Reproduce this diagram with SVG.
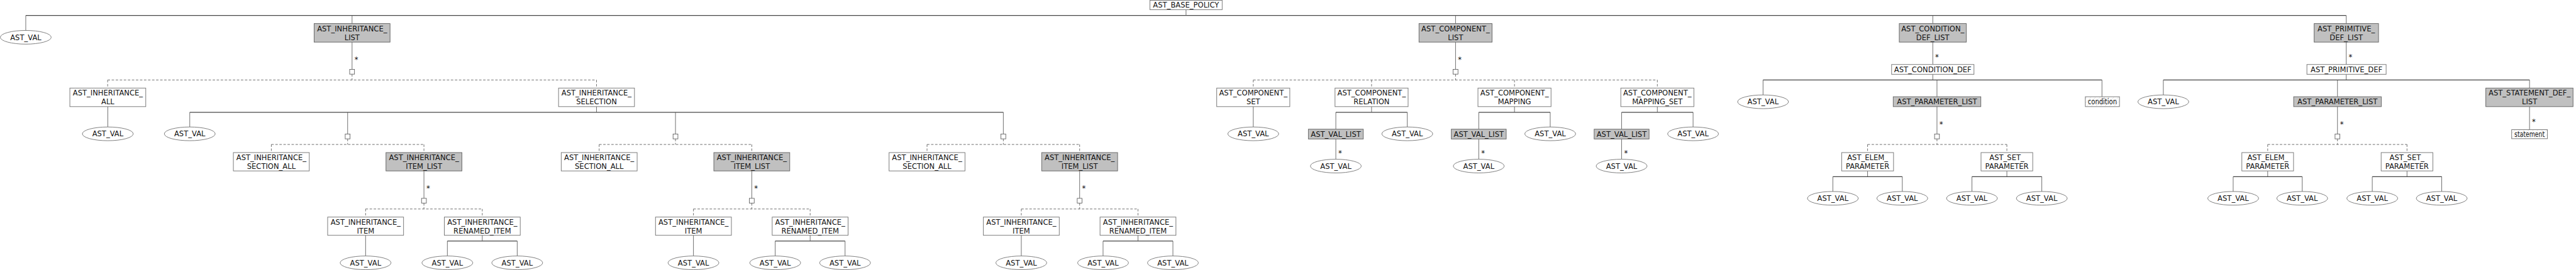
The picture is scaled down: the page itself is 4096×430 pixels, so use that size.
<svg xmlns="http://www.w3.org/2000/svg" width="4096" height="430" viewBox="0 0 4096 430">
<defs>
<pattern id="hatch" patternUnits="userSpaceOnUse" width="8" height="8" patternTransform="rotate(45)">
<rect width="8" height="8" fill="#fff"/>
<line x1="0" y1="0" x2="0" y2="8" stroke="#c8c8c8" stroke-width="1.5" stroke-dasharray="3 2"/>
</pattern>
<style>
.b{fill:#fff;stroke:#777;stroke-width:1.5}
.g{fill:#c0c0c0;stroke:#666;stroke-width:1.5}
.h{fill:url(#hatch);stroke:#777;stroke-width:1.5}
.e{fill:#fff;stroke:#666;stroke-width:1.3}
.m{fill:#fff;stroke:#555;stroke-width:1.3}
.l{stroke:#6a6a6a;stroke-width:1.5;fill:none}
.bus{stroke:#444;stroke-width:1.8;fill:none}
.d{stroke:#555;stroke-width:1.3;stroke-dasharray:6 4;fill:none}
text{font-family:"DejaVu Sans","Liberation Sans",sans-serif;font-size:18px;fill:#111;text-anchor:middle}
</style>
</defs>
<rect width="4096" height="430" fill="#fff"/>
<g transform="scale(0.642)">
<g id="connectors">
<path class="bus" d="M63.8 38.4H5811"/>
<path class="l" d="M2937.5 24V38.4M63.8 38.4V75.5M872 38.4V58.5M3605 38.4V58.5M4787 38.4V58.5M5811 38.4V58.5"/>
<!-- inheritance list -->
<path class="l" d="M872 104.5V172"/>
<path class="d" d="M872 184V198.4M266.6 198.4H1477.4M266.6 198.4V218.5M1477.4 198.4V218.5"/>
<path class="l" d="M267 264.5V315M1477.4 264.5V278.6"/>
<path class="bus" d="M470 278.6H2485"/>
<path class="l" d="M470 278.6V315M861 278.6V332.5M1673 278.6V332.5M2485 278.6V332.5"/>
<path class="d" d="M861 344.5V358.4M672 358.4H1050M672 358.4V378.5M1050 358.4V378.5"/>
<path class="d" d="M1673 344.5V358.4M1484 358.4H1862M1484 358.4V378.5M1862 358.4V378.5"/>
<path class="d" d="M2485 344.5V358.4M2296 358.4H2674M2296 358.4V378.5M2674 358.4V378.5"/>
<path class="l" d="M1050 424V492M1862 424V492M2674 424V492"/>
<path class="d" d="M1050 504V518.4M905.5 518.4H1194.5M905.5 518.4V538.5M1194.5 518.4V538.5"/>
<path class="d" d="M1862 504V518.4M1717.5 518.4H2006.5M1717.5 518.4V538.5M2006.5 518.4V538.5"/>
<path class="d" d="M2674 504V518.4M2529.5 518.4H2818.5M2529.5 518.4V538.5M2818.5 518.4V538.5"/>
<path class="l" d="M905.5 583.7V635M1194.5 583.7V598M1108 598V635M1281 598V635"/>
<path class="l" d="M1717.5 583.7V635M2006.5 583.7V598M1920 598V635M2093 598V635"/>
<path class="l" d="M2529.5 583.7V635M2818.5 583.7V598M2732 598V635M2905 598V635"/>
<path class="bus" d="M1108 598H1281M1920 598H2093M2732 598H2905"/>
<!-- component list -->
<path class="l" d="M3605 104.5V172"/>
<path class="d" d="M3605 184V198.4M3104 198.4H4104.8M3104 198.4V218.5M3397 198.4V218.5M3751 198.4V218.5M4104.8 198.4V218.5"/>
<path class="l" d="M3104 264.5V315M3397 264.5V278.6M3308.5 278.6V320.5M3485.5 278.6V315M3308.5 344.8V395"/>
<path class="l" d="M3751 264.5V278.6M3662.5 278.6V320.5M3839.5 278.6V315M3662.5 344.8V395"/>
<path class="l" d="M4104.8 264.5V278.6M4016.3 278.6V320.5M4193.3 278.6V315M4016.3 344.8V395"/>
<path class="bus" d="M3308.5 278.6H3485.5M3662.5 278.6H3839.5M4016.3 278.6H4193.3"/>
<!-- condition def list -->
<path class="l" d="M4787 104.5V160M4787 184.3V198.4M4366.6 198.4V235.5M4797.4 198.4V240M5206 198.4V240M4797.4 264.5V332.5"/>
<path class="bus" d="M4366.6 198.4H5206"/>
<path class="d" d="M4797.4 344.5V358.4M4625.5 358.4H4970.5M4625.5 358.4V378.5M4970.5 358.4V378.5"/>
<path class="l" d="M4625.5 424V438.2M4539.5 438.2V475M4711.5 438.2V475M4970.5 424V438.2M4884 438.2V475M5057 438.2V475"/>
<path class="bus" d="M4539.5 438.2H4711.5M4884 438.2H5057"/>
<!-- primitive def list -->
<path class="l" d="M5811 104.5V160M5811 184.3V198.4M5358 198.4V235.5M5789.3 198.4V240M6265 198.4V218.5M6265 264.5V321.7M5789.3 264.5V332.5"/>
<path class="bus" d="M5358 198.4H6265"/>
<path class="d" d="M5789.3 344.5V358.4M5616.5 358.4H5961.5M5616.5 358.4V378.5M5961.5 358.4V378.5"/>
<path class="l" d="M5616.5 424V438.2M5531 438.2V475M5702 438.2V475M5961.5 424V438.2M5875.5 438.2V475M6047.5 438.2V475"/>
<path class="bus" d="M5531 438.2H5702M5875.5 438.2H6047.5"/>
<!-- choice markers -->
<rect class="m" x="866" y="172" width="12" height="12"/>
<rect class="m" x="3599" y="172" width="12" height="12"/>
<rect class="m" x="855" y="332.5" width="12" height="12"/>
<rect class="m" x="1667" y="332.5" width="12" height="12"/>
<rect class="m" x="2479" y="332.5" width="12" height="12"/>
<rect class="m" x="1044" y="492" width="12" height="12"/>
<rect class="m" x="1856" y="492" width="12" height="12"/>
<rect class="m" x="2668" y="492" width="12" height="12"/>
<rect class="m" x="4791.4" y="332.5" width="12" height="12"/>
<rect class="m" x="5783.3" y="332.5" width="12" height="12"/>
<!-- multiplicity labels -->
<text x="882.5" y="154.5">*</text>
<text x="3615.5" y="154.5">*</text>
<text x="4797.5" y="148">*</text>
<text x="5821.5" y="148">*</text>
<text x="1060.5" y="473.5">*</text>
<text x="1872.5" y="473.5">*</text>
<text x="2684.5" y="473.5">*</text>
<text x="3319" y="386">*</text>
<text x="3673" y="386">*</text>
<text x="4027" y="386">*</text>
<text x="4808" y="314.5">*</text>
<text x="5800" y="314.5">*</text>
<text x="6275.5" y="309">*</text>
</g>

<g id="ast_base_policy"><rect class="b" x="2848" y="0.8" width="179" height="23.2"/><text x="2937.5" y="18.5">AST_BASE_POLICY</text></g>

<g id="val_root"><ellipse class="e" cx="63.8" cy="92.5" rx="63" ry="17"/><text x="63.8" y="99">AST_VAL</text></g>

<g id="inheritance_list"><rect class="g" x="778" y="58.5" width="188" height="46"/><text x="872" y="77.5">AST_INHERITANCE_</text><text x="872" y="99">LIST</text></g>
<g id="inheritance_all"><rect class="b" x="173" y="218.5" width="188" height="46"/><text x="267" y="237.5">AST_INHERITANCE_</text><text x="267" y="259">ALL</text></g>
<g id="val_all"><ellipse class="e" cx="267" cy="332" rx="63" ry="17"/><text x="267" y="338.5">AST_VAL</text></g>
<g id="inheritance_selection"><rect class="b" x="1383.4" y="218.5" width="188" height="46"/><text x="1477.4" y="237.5">AST_INHERITANCE_</text><text x="1477.4" y="259">SELECTION</text></g>
<g id="val_sel"><ellipse class="e" cx="470" cy="332" rx="63" ry="17"/><text x="470" y="338.5">AST_VAL</text></g>

<g id="section_all_1"><rect class="b" x="578" y="378.5" width="188" height="45.5"/><text x="672" y="397.5">AST_INHERITANCE_</text><text x="672" y="419">SECTION_ALL</text></g>
<g id="item_list_1"><rect class="g" x="956" y="378.5" width="188" height="45.5"/><text x="1050" y="397.5">AST_INHERITANCE_</text><text x="1050" y="419">ITEM_LIST</text></g>
<g id="item_1"><rect class="b" x="811.5" y="538.5" width="188" height="45.2"/><text x="905.5" y="557.5">AST_INHERITANCE_</text><text x="905.5" y="579">ITEM</text></g>
<g id="renamed_1"><rect class="b" x="1100.5" y="538.5" width="188" height="45.2"/><text x="1194.5" y="557.5">AST_INHERITANCE_</text><text x="1194.5" y="579">RENAMED_ITEM</text></g>
<g id="val_i1"><ellipse class="e" cx="905.5" cy="652" rx="63" ry="17"/><text x="905.5" y="658.5">AST_VAL</text></g>
<g id="val_r1a"><ellipse class="e" cx="1108" cy="652" rx="63" ry="17"/><text x="1108" y="658.5">AST_VAL</text></g>
<g id="val_r1b"><ellipse class="e" cx="1281" cy="652" rx="63" ry="17"/><text x="1281" y="658.5">AST_VAL</text></g>

<g id="section_all_2"><rect class="b" x="1390" y="378.5" width="188" height="45.5"/><text x="1484" y="397.5">AST_INHERITANCE_</text><text x="1484" y="419">SECTION_ALL</text></g>
<g id="item_list_2"><rect class="g" x="1768" y="378.5" width="188" height="45.5"/><text x="1862" y="397.5">AST_INHERITANCE_</text><text x="1862" y="419">ITEM_LIST</text></g>
<g id="item_2"><rect class="b" x="1623.5" y="538.5" width="188" height="45.2"/><text x="1717.5" y="557.5">AST_INHERITANCE_</text><text x="1717.5" y="579">ITEM</text></g>
<g id="renamed_2"><rect class="b" x="1912.5" y="538.5" width="188" height="45.2"/><text x="2006.5" y="557.5">AST_INHERITANCE_</text><text x="2006.5" y="579">RENAMED_ITEM</text></g>
<g id="val_i2"><ellipse class="e" cx="1717.5" cy="652" rx="63" ry="17"/><text x="1717.5" y="658.5">AST_VAL</text></g>
<g id="val_r2a"><ellipse class="e" cx="1920" cy="652" rx="63" ry="17"/><text x="1920" y="658.5">AST_VAL</text></g>
<g id="val_r2b"><ellipse class="e" cx="2093" cy="652" rx="63" ry="17"/><text x="2093" y="658.5">AST_VAL</text></g>

<g id="section_all_3"><rect class="b" x="2202" y="378.5" width="188" height="45.5"/><text x="2296" y="397.5">AST_INHERITANCE_</text><text x="2296" y="419">SECTION_ALL</text></g>
<g id="item_list_3"><rect class="g" x="2580" y="378.5" width="188" height="45.5"/><text x="2674" y="397.5">AST_INHERITANCE_</text><text x="2674" y="419">ITEM_LIST</text></g>
<g id="item_3"><rect class="b" x="2435.5" y="538.5" width="188" height="45.2"/><text x="2529.5" y="557.5">AST_INHERITANCE_</text><text x="2529.5" y="579">ITEM</text></g>
<g id="renamed_3"><rect class="b" x="2724.5" y="538.5" width="188" height="45.2"/><text x="2818.5" y="557.5">AST_INHERITANCE_</text><text x="2818.5" y="579">RENAMED_ITEM</text></g>
<g id="val_i3"><ellipse class="e" cx="2529.5" cy="652" rx="63" ry="17"/><text x="2529.5" y="658.5">AST_VAL</text></g>
<g id="val_r3a"><ellipse class="e" cx="2732" cy="652" rx="63" ry="17"/><text x="2732" y="658.5">AST_VAL</text></g>
<g id="val_r3b"><ellipse class="e" cx="2905" cy="652" rx="63" ry="17"/><text x="2905" y="658.5">AST_VAL</text></g>

<g id="component_list"><rect class="g" x="3514.5" y="58.5" width="181" height="46"/><text x="3605" y="77.5">AST_COMPONENT_</text><text x="3605" y="99">LIST</text></g>
<g id="component_set"><rect class="b" x="3013.5" y="218.5" width="181" height="46"/><text x="3104" y="237.5">AST_COMPONENT_</text><text x="3104" y="259">SET</text></g>
<g id="val_cs"><ellipse class="e" cx="3104" cy="332" rx="63" ry="17"/><text x="3104" y="338.5">AST_VAL</text></g>
<g id="component_relation"><rect class="b" x="3306.5" y="218.5" width="181" height="46"/><text x="3397" y="237.5">AST_COMPONENT_</text><text x="3397" y="259">RELATION</text></g>
<g id="val_list_rel"><rect class="g" x="3240.5" y="320.5" width="136" height="24.3"/><text x="3308.5" y="339">AST_VAL_LIST</text></g>
<g id="val_rel_b"><ellipse class="e" cx="3485.5" cy="332" rx="63" ry="17"/><text x="3485.5" y="338.5">AST_VAL</text></g>
<g id="val_rel_a"><ellipse class="e" cx="3308.5" cy="412" rx="63" ry="17"/><text x="3308.5" y="418.5">AST_VAL</text></g>
<g id="component_mapping"><rect class="b" x="3660.5" y="218.5" width="181" height="46"/><text x="3751" y="237.5">AST_COMPONENT_</text><text x="3751" y="259">MAPPING</text></g>
<g id="val_list_map"><rect class="g" x="3594.5" y="320.5" width="136" height="24.3"/><text x="3662.5" y="339">AST_VAL_LIST</text></g>
<g id="val_map_b"><ellipse class="e" cx="3839.5" cy="332" rx="63" ry="17"/><text x="3839.5" y="338.5">AST_VAL</text></g>
<g id="val_map_a"><ellipse class="e" cx="3662.5" cy="412" rx="63" ry="17"/><text x="3662.5" y="418.5">AST_VAL</text></g>
<g id="component_mapping_set"><rect class="b" x="4014.3" y="218.5" width="181" height="46"/><text x="4104.8" y="237.5">AST_COMPONENT_</text><text x="4104.8" y="259">MAPPING_SET</text></g>
<g id="val_list_ms"><rect class="g" x="3948.3" y="320.5" width="136" height="24.3"/><text x="4016.3" y="339">AST_VAL_LIST</text></g>
<g id="val_ms_b"><ellipse class="e" cx="4193.3" cy="332" rx="63" ry="17"/><text x="4193.3" y="338.5">AST_VAL</text></g>
<g id="val_ms_a"><ellipse class="e" cx="4016.3" cy="412" rx="63" ry="17"/><text x="4016.3" y="418.5">AST_VAL</text></g>

<g id="condition_def_list"><rect class="g" x="4704" y="58.5" width="166" height="46"/><text x="4787" y="77.5">AST_CONDITION_</text><text x="4787" y="99">DEF_LIST</text></g>
<g id="condition_def"><rect class="b" x="4685" y="160" width="204" height="24.3"/><text x="4787" y="178.5">AST_CONDITION_DEF</text></g>
<g id="val_cd"><ellipse class="e" cx="4366.6" cy="252.5" rx="63" ry="17"/><text x="4366.6" y="259">AST_VAL</text></g>
<g id="parameter_list_c"><rect class="g" x="4689" y="240" width="217" height="24.5"/><text x="4797.4" y="258.5">AST_PARAMETER_LIST</text></g>
<g id="condition"><rect class="h" x="5164.8" y="240" width="84.6" height="24.5"/><text x="5207" y="258.5" textLength="72" lengthAdjust="spacingAndGlyphs">condition</text></g>
<g id="elem_param_c"><rect class="b" x="4561.3" y="378.5" width="128.5" height="45.5"/><text x="4625.5" y="397.5">AST_ELEM_</text><text x="4625.5" y="419">PARAMETER</text></g>
<g id="set_param_c"><rect class="b" x="4906.5" y="378.5" width="128" height="45.5"/><text x="4970.5" y="397.5">AST_SET_</text><text x="4970.5" y="419">PARAMETER</text></g>
<g id="val_ec1"><ellipse class="e" cx="4539.5" cy="492" rx="63" ry="17"/><text x="4539.5" y="498.5">AST_VAL</text></g>
<g id="val_ec2"><ellipse class="e" cx="4711.5" cy="492" rx="63" ry="17"/><text x="4711.5" y="498.5">AST_VAL</text></g>
<g id="val_sc1"><ellipse class="e" cx="4884" cy="492" rx="63" ry="17"/><text x="4884" y="498.5">AST_VAL</text></g>
<g id="val_sc2"><ellipse class="e" cx="5057" cy="492" rx="63" ry="17"/><text x="5057" y="498.5">AST_VAL</text></g>

<g id="primitive_def_list"><rect class="g" x="5731.5" y="58.5" width="159.5" height="46"/><text x="5811" y="77.5">AST_PRIMITIVE_</text><text x="5811" y="99">DEF_LIST</text></g>
<g id="primitive_def"><rect class="b" x="5713.6" y="160" width="196.2" height="24.3"/><text x="5811.7" y="178.5">AST_PRIMITIVE_DEF</text></g>
<g id="val_pd"><ellipse class="e" cx="5358" cy="252.5" rx="63" ry="17"/><text x="5358" y="259">AST_VAL</text></g>
<g id="parameter_list_p"><rect class="g" x="5680.8" y="240" width="217" height="24.5"/><text x="5789.3" y="258.5">AST_PARAMETER_LIST</text></g>
<g id="statement_def_list"><rect class="g" x="6156.7" y="218.5" width="216" height="46"/><text x="6265" y="237.5">AST_STATEMENT_DEF_</text><text x="6265" y="259">LIST</text></g>
<g id="statement"><rect class="h" x="6220.7" y="321.7" width="88.6" height="22.3"/><text x="6265" y="339" textLength="75" lengthAdjust="spacingAndGlyphs">statement</text></g>
<g id="elem_param_p"><rect class="b" x="5552.5" y="378.5" width="128" height="45.5"/><text x="5616.5" y="397.5">AST_ELEM_</text><text x="5616.5" y="419">PARAMETER</text></g>
<g id="set_param_p"><rect class="b" x="5897.5" y="378.5" width="128" height="45.5"/><text x="5961.5" y="397.5">AST_SET_</text><text x="5961.5" y="419">PARAMETER</text></g>
<g id="val_ep1"><ellipse class="e" cx="5531" cy="492" rx="63" ry="17"/><text x="5531" y="498.5">AST_VAL</text></g>
<g id="val_ep2"><ellipse class="e" cx="5702" cy="492" rx="63" ry="17"/><text x="5702" y="498.5">AST_VAL</text></g>
<g id="val_sp1"><ellipse class="e" cx="5875.5" cy="492" rx="63" ry="17"/><text x="5875.5" y="498.5">AST_VAL</text></g>
<g id="val_sp2"><ellipse class="e" cx="6047.5" cy="492" rx="63" ry="17"/><text x="6047.5" y="498.5">AST_VAL</text></g>
</g>
</svg>
